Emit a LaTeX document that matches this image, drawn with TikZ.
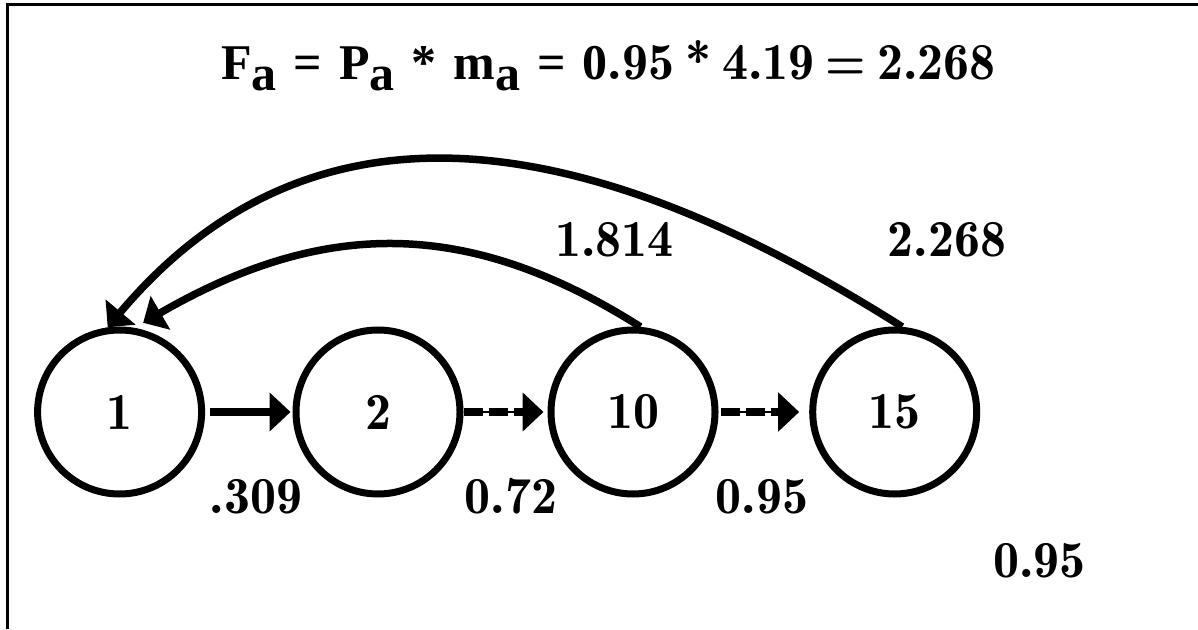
\documentclass[tikz,border=0pt]{standalone}
\usepackage{fontspec}
\newfontfamily\tnr{Liberation Serif}
\usetikzlibrary{arrows.meta}
\newcommand{\lowa}{\raisebox{-11pt}{a}}
\newcommand{\tsp}{\hspace{11pt}}
\begin{document}
\begin{tikzpicture}[x=1pt,y=1pt,
  every node/.style={font=\fontsize{52}{60}\fontseries{b}\selectfont, inner sep=0pt},
  state/.style={circle, draw, line width=7pt, minimum size=164pt},
  headtip/.style={-{Triangle[width=38pt,length=21pt]}},
  solidarrow/.style={headtip, line width=8pt},
  dasharrow/.style={headtip, line width=8pt, dash pattern=on 19pt off 6pt},
  thinlink/.style={line width=2pt},
  backarrow/.style={-{Triangle[width=38pt,length=20pt]}, line width=7.5pt},
  lbl/.style={anchor=base}]
\useasboundingbox (0,0) rectangle (1198,629);
\draw[line width=3pt] (7,0) -- (7,624) -- (1198,624);

\node[state] (n1) at (119.6,217) {1};
\node[state] (n2) at (378,217) {2};
\node[state] (n10) at (633,217) {10};
\node[state] (n15) at (894.7,217) {15};

\draw[solidarrow, shorten <=5pt, shorten >=2pt] (n1.east) -- (n2.west);
\draw[thinlink, shorten >=20pt] (n2.east) -- (n10.west);
\draw[dasharrow, shorten >=4pt] (n2.east) -- (n10.west);
\draw[thinlink, shorten <=2pt, shorten >=30pt] (n10.east) -- (n15.west);
\draw[dasharrow, shorten <=2pt, shorten >=10pt] (n10.east) -- (n15.west);

\draw[backarrow] (n15.85) .. controls (615,484) and (326,561) .. (n1.98);
\draw[backarrow] (n10.85) .. controls (466,413) and (321,409) .. ([yshift=7pt]n1.74);

\node[anchor=base west] (title) at (221,549)
  {{\fontsize{50}{60}\tnr\bfseries\spaceskip=17pt F\lowa{} = P\lowa{} * m\lowa{} = 0}.95\tsp*\tsp4.19\tsp=\tsp2.268};
\node[lbl] (l1814) at (614.5,372) {1.814};
\node[lbl] (l2268) at (947,372) {2.268};
\node[lbl] (l309) at (256,116) {.309};
\node[lbl] (l072) at (511,116) {0.72};
\node[lbl] (l095a) at (762,116) {0.95};
\node[lbl] (l095b) at (1039.5,52) {0.95};
\end{tikzpicture}
\end{document}
